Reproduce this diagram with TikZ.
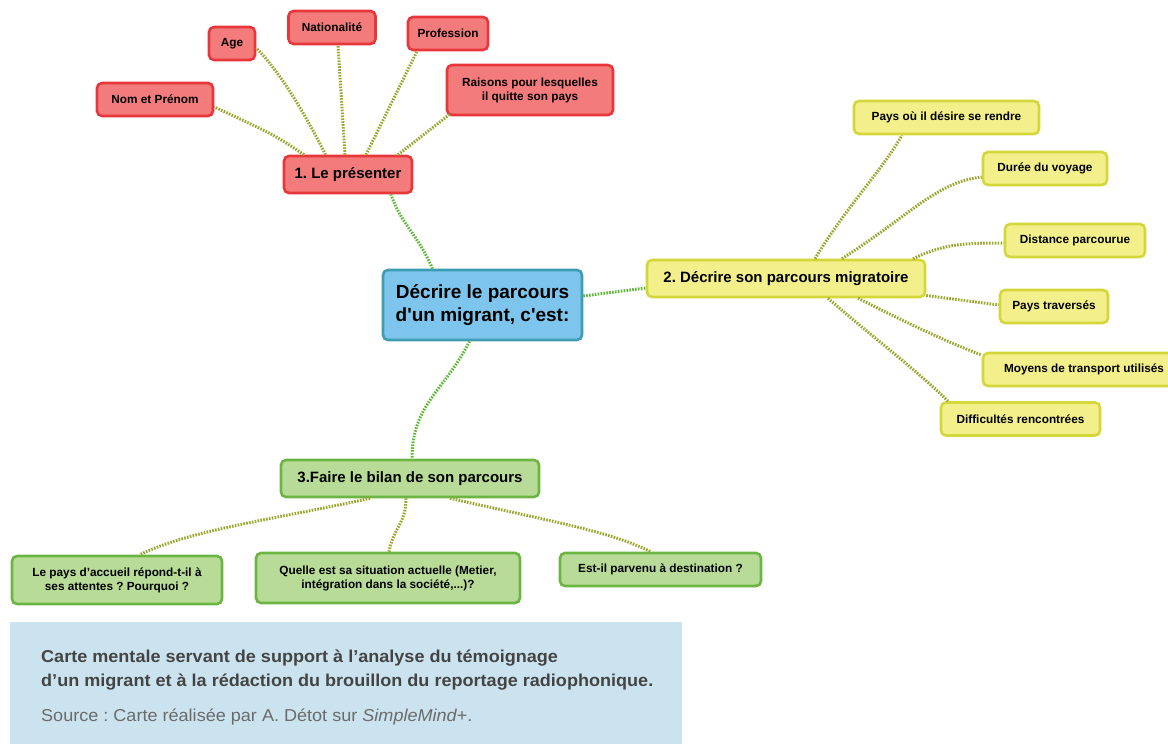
\documentclass[tikz,border=0pt]{standalone}
\usepackage{fontspec}
\setmainfont{Liberation Sans}
\newfontfamily\capfont[FakeStretch=1.05,Ligatures=TeX]{Liberation Sans}
\frenchspacing

\definecolor{redfill}{HTML}{F47B7B}
\definecolor{redline}{HTML}{E8363A}
\definecolor{yelfill}{HTML}{F3EF8B}
\definecolor{yelline}{HTML}{D3D73A}
\definecolor{grnfill}{HTML}{B8DC98}
\definecolor{grnline}{HTML}{6DB543}
\definecolor{bluefill}{HTML}{7DC5EC}
\definecolor{blueline}{HTML}{3C9DB3}
\definecolor{linkmain}{HTML}{5FB838}
\definecolor{linksub}{HTML}{9AA62C}
\definecolor{capbg}{HTML}{CBE3EE}
\definecolor{captext}{HTML}{444444}
\definecolor{srctext}{HTML}{6B6B6B}

\tikzset{
  box/.style={rounded corners=5pt,line width=2.6pt,align=center,inner sep=0pt,
    minimum height=33pt,font=\bfseries\fontsize{11.8}{14}\selectfont},
  redbox/.style={box,draw=redline,fill=redfill},
  yelbox/.style={box,draw=yelline,fill=yelfill},
  grnbox/.style={box,draw=grnline,fill=grnfill},
  topic/.style={minimum height=37pt,font=\bfseries\fontsize{15}{18}\selectfont},
  link/.style={line width=3pt,dash pattern=on 1.6pt off 1.3pt,draw=linksub},
  mainlink/.style={link,draw=linkmain}
}

\begin{document}
\begin{tikzpicture}[x=1pt,y=-1pt]
\useasboundingbox (0,0) rectangle (1168,744);

% centre
\node[box,draw=blueline,fill=bluefill,minimum width=199pt,minimum height=70pt,
  font=\bfseries\fontsize{19}{23}\selectfont] (centre) at (482.5,305)
  {D\'ecrire le parcours\\d\textquotesingle un migrant, c\textquotesingle est:};

% 1. le presenter
\node[redbox,topic,minimum width=128pt] (pres) at (348,174.5) {1. Le pr\'esenter};
\node[redbox,minimum width=116pt] (nom) at (155,99.5) {Nom et Pr\'enom};
\node[redbox,minimum width=46pt] (age) at (232,43.5) {Age};
\node[redbox,minimum width=87pt] (nat) at (332,27.5) {Nationalit\'e};
\node[redbox,minimum width=80pt] (prof) at (448,33.5) {Profession};
\node[redbox,minimum width=166pt,minimum height=50pt] (raisons) at (530,90)
  {Raisons pour lesquelles\\il quitte son pays};

% 2. parcours
\node[yelbox,topic,minimum width=278pt] (parcours) at (786,278.5)
  {2. D\'ecrire son parcours migratoire};
\node[yelbox,minimum width=185pt] (paysdest) at (946.5,117.5) {Pays o\`u il d\'esire se rendre};
\node[yelbox,minimum width=124pt] (duree) at (1045,168.5) {Dur\'ee du voyage};
\node[yelbox,minimum width=140pt] (distance) at (1075,240.5) {Distance parcourue};
\node[yelbox,minimum width=108pt] (traverses) at (1054,306.5) {Pays travers\'es};
\node[yelbox,minimum width=202pt] (moyens) at (1084,369.5) {Moyens de transport utilis\'es};
\node[yelbox,minimum width=159pt] (difficultes) at (1020.5,419) {Difficult\'es rencontr\'ees};

% 3. bilan
\node[grnbox,topic,minimum width=258pt] (bilan) at (410,478.5) {3.Faire le bilan de son parcours};
\node[grnbox,minimum width=210pt,minimum height=48pt] (accueil) at (117,580)
  {Le pays d'accueil r\'epond-t-il \`a\\ses attentes ? Pourquoi ?};
\node[grnbox,minimum width=264pt,minimum height=50pt] (situation) at (388,578)
  {Quelle est sa situation actuelle (Metier,\\int\'egration dans la soci\'et\'e,...)?};
\node[grnbox,minimum width=201pt] (destination) at (660.5,569.5) {Est-il parvenu \`a destination ?};

% liens
\draw[mainlink] ([xshift=-50pt]centre.north) .. controls +(-15,-35) and +(10,30) .. ([xshift=43pt]pres.south);
\draw[mainlink] ([yshift=9pt]centre.east) -- ([yshift=-9.5pt]parcours.west);
\draw[mainlink] ([xshift=-13pt]centre.south) .. controls +(-25,50) and +(0,-55) .. ([xshift=2pt]bilan.north);

\draw[link] ([xshift=-44pt]pres.north) .. controls +(-30,-20) .. ([yshift=-7.5pt]nom.east);
\draw[link] ([xshift=-22.5pt]pres.north) .. controls +(-30,-60) and +(15,15) .. ([yshift=-4.5pt]age.east);
\draw[link] ([xshift=-3pt]pres.north) -- ([xshift=6pt]nat.south);
\draw[link] ([xshift=18pt]pres.north) -- ([xshift=-31pt]prof.south);
\draw[link] ([xshift=50pt]pres.north) -- ([xshift=4pt,yshift=2pt]raisons.south west);

\draw[link] ([xshift=29pt]parcours.north) .. controls +(30,-50) and +(-20,35) .. ([xshift=-44.5pt]paysdest.south);
\draw[link] ([xshift=56pt]parcours.north) .. controls +(70,-45) and +(-45,5) .. ([yshift=-8.5pt]duree.west);
\draw[link] ([xshift=127pt]parcours.north) .. controls +(30,-14) and +(-45,0) .. ([yshift=-2.5pt]distance.west);
\draw[link] ([yshift=-17pt]parcours.east) -- ([yshift=1.5pt]traverses.west);
\draw[link] ([xshift=72pt]parcours.south) .. controls +(40,20) and +(-40,-15) .. ([yshift=14.5pt]moyens.west);
\draw[link] ([xshift=42pt]parcours.south) .. controls +(40,35) and +(-30,-30) .. ([xshift=-72.5pt]difficultes.north);

\draw[link] ([xshift=-40pt]bilan.south) .. controls +(-90,20) and +(50,-25) .. ([xshift=23pt]accueil.north);
\draw[link] ([xshift=-4pt]bilan.south) .. controls +(0,25) and +(5,-25) .. ([xshift=1pt]situation.north);
\draw[link] ([xshift=40pt]bilan.south) .. controls +(110,25) and +(-40,-20) .. ([xshift=-10pt]destination.north);

% legende
\fill[capbg] (10,622) rectangle (682,744);
\node[anchor=base west,inner sep=0pt,text=captext,align=left,
  font=\capfont\bfseries\fontsize{17.2}{23.5}\selectfont] (legende) at (41,686)
  {Carte mentale servant de support \`a l'analyse du t\'emoignage\\
   d'un migrant et \`a la r\'edaction du brouillon du reportage radiophonique.};
\node[anchor=base west,inner sep=0pt,text=srctext,
  font=\capfont\fontsize{17.2}{20}\selectfont] (source) at (41,721)
  {Source : Carte r\'ealis\'ee par A. D\'etot sur \textit{SimpleMind+}.};
\end{tikzpicture}
\end{document}
